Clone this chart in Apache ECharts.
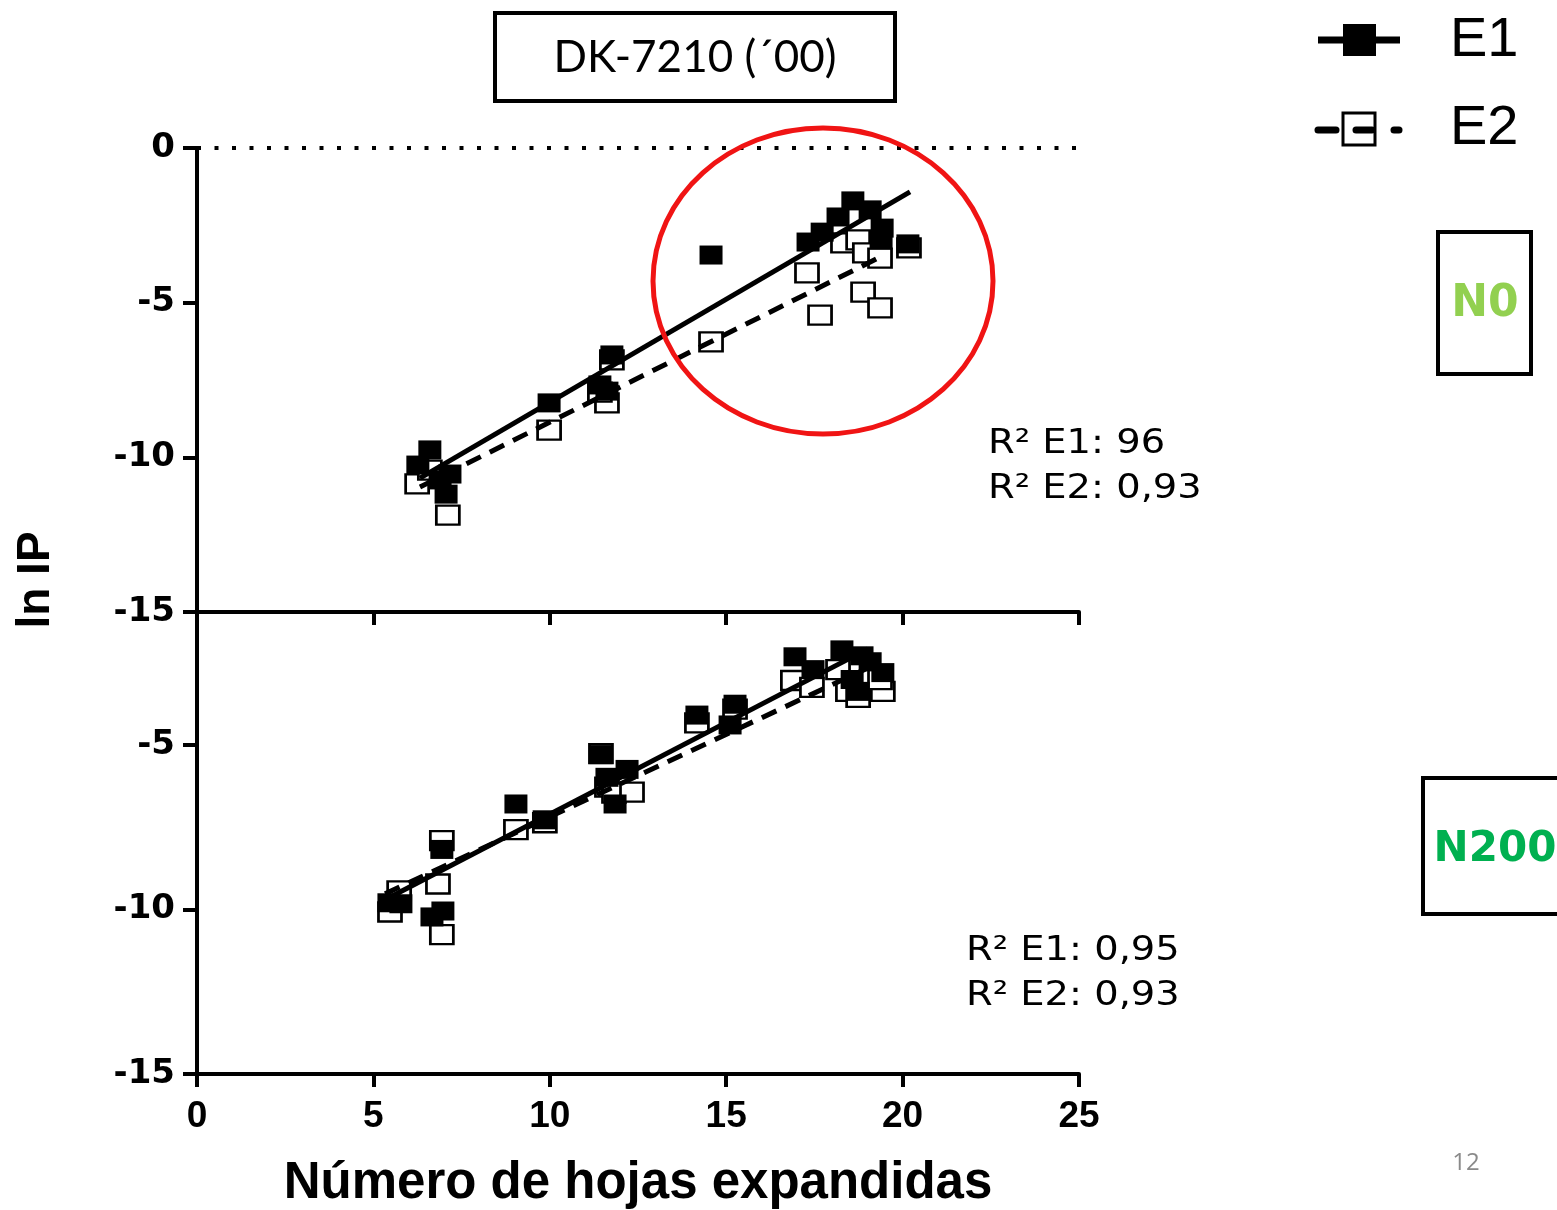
<!DOCTYPE html>
<html>
<head>
<meta charset="utf-8">
<script src="https://cdn.jsdelivr.net/npm/echarts@6/dist/echarts.min.js"></script>
<style>
html,body{margin:0;padding:0;background:#fff;}
#chart{width:1557px;height:1210px;}
</style>
</head>
<body>
<div id="chart"></div>
<script>
// ---- data ----
const xTicks = [0, 5, 10, 15, 20, 25];
const yTicksTop = [0, -5, -10, -15];
const yTicksBottom = [-5, -10, -15];

// N0 panel (top)
const topE1 = [[6.26,-10.25],[6.60,-9.76],[7.17,-10.54],[7.06,-11.19],[6.89,-10.73],[9.98,-8.24],[11.76,-6.69],[11.42,-7.66],[11.62,-7.86],[14.57,-3.46],[17.32,-3.04],[17.72,-2.72],[18.17,-2.23],[18.59,-1.71],[19.08,-2.00],[19.42,-2.59],[19.39,-2.97],[20.15,-3.10]];
const topE2 = [[6.24,-10.86],[7.11,-11.87],[6.60,-10.41],[9.98,-9.12],[11.76,-6.85],[11.62,-8.24],[11.42,-7.89],[14.57,-6.27],[17.29,-4.04],[17.66,-5.40],[18.31,-3.07],[18.74,-2.97],[18.93,-3.39],[19.36,-3.56],[18.88,-4.66],[19.36,-5.17],[20.18,-3.23]];
const topFitE1 = [[6.32,-10.67],[20.21,-1.42]];
const topFitE2 = [[6.32,-10.96],[19.25,-3.59]];
const topRefLine = [0];

// N200 panel (bottom)
const botE1 = [[5.44,-9.80],[5.78,-9.83],[6.66,-10.23],[6.97,-10.05],[6.94,-8.18],[9.04,-6.80],[9.84,-7.28],[11.45,-5.30],[12.19,-5.75],[11.62,-5.99],[11.85,-6.80],[14.17,-4.10],[15.25,-3.77],[15.11,-4.40],[16.95,-2.33],[17.46,-2.72],[18.28,-2.12],[18.85,-2.30],[19.08,-2.48],[18.57,-3.02],[18.74,-3.38],[19.44,-2.81]];
const botE2 = [[5.47,-10.08],[5.73,-9.44],[6.83,-9.23],[6.94,-10.77],[6.94,-7.91],[9.04,-7.58],[9.86,-7.37],[11.45,-5.27],[11.62,-6.29],[11.82,-6.47],[12.33,-6.44],[14.17,-4.34],[15.25,-3.92],[16.89,-3.05],[17.43,-3.26],[18.17,-2.72],[18.45,-3.38],[18.74,-3.56],[19.44,-3.38],[19.36,-3.02]];
const botFitE1 = [[5.33,-9.71],[19.02,-2.09]];
const botFitE2 = [[5.33,-9.53],[19.10,-2.63]];

const seriesNames = ['E1', 'E2'];
const r2Top = ['R\u00B2 E1: 96', 'R\u00B2 E2: 0,93'];
const r2Bot = ['R\u00B2 E1: 0,95', 'R\u00B2 E2: 0,93'];
const titleText = 'DK-7210 (\u00B400)';
const xName = 'Número de hojas expandidas';
const yName = 'ln IP';
const panelNames = ['N0', 'N200'];

// ---- chart ----
const chart = echarts.init(document.getElementById('chart'), null, {renderer: 'canvas'});

const axisLineStyle = {color: '#000', width: 4};
const yLabel = {color: '#000', fontFamily: 'DejaVu Sans', fontWeight: 'bold', fontSize: 34, margin: 22};

const openSq = {color: '#fff', borderColor: '#000', borderWidth: 2.5, opacity: 1};
const fillSq = {color: '#000', opacity: 1};

const option = {
  animation: false,
  backgroundColor: '#fff',
  grid: [
    {left: 197, top: 148, width: 882, height: 464},
    {left: 197, top: 613, width: 882, height: 466}
  ],
  xAxis: [
    {gridIndex: 0, type: 'value', min: 0, max: 25, interval: 5,
     axisLine: {onZero: false, lineStyle: axisLineStyle},
     axisTick: {length: 13, lineStyle: {color: '#000', width: 4}},
     axisLabel: {show: false}, splitLine: {show: false}},
    {gridIndex: 1, type: 'value', min: 0, max: 25, interval: 5,
     axisLine: {onZero: false, lineStyle: axisLineStyle},
     axisTick: {length: 13, lineStyle: {color: '#000', width: 4}},
     axisLabel: {color: '#000', fontFamily: 'Liberation Sans', fontWeight: 'bold', fontSize: 37, margin: 24},
     splitLine: {show: false},
     name: xName, nameLocation: 'middle', nameGap: 84,
     nameTextStyle: {color: '#000', fontFamily: 'Liberation Sans', fontWeight: 'bold', fontSize: 51}}
  ],
  yAxis: [
    {gridIndex: 0, type: 'value', min: -15, max: 0, interval: 5,
     axisLine: {onZero: false, lineStyle: axisLineStyle},
     axisTick: {length: 14, lineStyle: {color: '#000', width: 4}},
     axisLabel: yLabel, splitLine: {show: false}},
    {gridIndex: 1, type: 'value', min: -15, max: -1,
     axisLine: {onZero: false, lineStyle: axisLineStyle},
     axisTick: {length: 14, lineStyle: {color: '#000', width: 4}, customValues: yTicksBottom},
     axisLabel: Object.assign({customValues: yTicksBottom}, yLabel), splitLine: {show: false}}
  ],
  series: [
    {name: seriesNames[1], type: 'scatter', xAxisIndex: 0, yAxisIndex: 0, data: topE2,
     symbol: 'rect', symbolSize: [23, 19], itemStyle: openSq, z: 2},
    {name: seriesNames[0], type: 'scatter', xAxisIndex: 0, yAxisIndex: 0, data: topE1,
     symbol: 'rect', symbolSize: [23, 19], itemStyle: fillSq, z: 3},
    {name: seriesNames[0] + ' fit', type: 'line', xAxisIndex: 0, yAxisIndex: 0, data: topFitE1,
     symbol: 'none', lineStyle: {color: '#000', width: 5}, z: 4,
     markLine: {silent: true, symbol: ['none', 'none'], label: {show: false},
       lineStyle: {color: '#000', width: 4, type: [4, 13.5]},
       data: topRefLine.map(v => ({yAxis: v}))}},
    {name: seriesNames[1] + ' fit', type: 'line', xAxisIndex: 0, yAxisIndex: 0, data: topFitE2,
     symbol: 'none', lineStyle: {color: '#000', width: 5, type: [16, 10]}, z: 4},

    {name: seriesNames[1], type: 'scatter', xAxisIndex: 1, yAxisIndex: 1, data: botE2,
     symbol: 'rect', symbolSize: [23, 19], itemStyle: openSq, z: 2},
    {name: seriesNames[0], type: 'scatter', xAxisIndex: 1, yAxisIndex: 1, data: botE1,
     symbol: 'rect', symbolSize: [23, 19], itemStyle: fillSq, z: 3},
    {name: seriesNames[0] + ' fit', type: 'line', xAxisIndex: 1, yAxisIndex: 1, data: botFitE1,
     symbol: 'none', lineStyle: {color: '#000', width: 5}, z: 4},
    {name: seriesNames[1] + ' fit', type: 'line', xAxisIndex: 1, yAxisIndex: 1, data: botFitE2,
     symbol: 'none', lineStyle: {color: '#000', width: 5, type: [16, 10]}, z: 4}
  ],
  graphic: [
    // title box
    {type: 'rect', shape: {x: 495, y: 13, width: 400, height: 88}, style: {fill: '#fff', stroke: '#000', lineWidth: 4}, z: 10},
    {type: 'text', x: 695, y: 58, z: 11, style: {text: titleText, font: '44px Lato', fill: '#000', align: 'center', verticalAlign: 'middle'}},
    // legend
    {type: 'line', shape: {x1: 1318, y1: 40, x2: 1400, y2: 40}, style: {stroke: '#000', lineWidth: 7}, z: 10},
    {type: 'rect', shape: {x: 1343, y: 24, width: 33, height: 32}, style: {fill: '#000'}, z: 11},
    {type: 'text', x: 1450, y: 41, z: 11, style: {text: seriesNames[0], font: '56px Liberation Sans', fill: '#000', align: 'left', verticalAlign: 'middle'}},
    {type: 'line', shape: {x1: 1318, y1: 130, x2: 1336, y2: 130}, style: {stroke: '#000', lineWidth: 7, lineCap: 'round'}, z: 10},
    {type: 'rect', shape: {x: 1343, y: 113, width: 32, height: 32}, style: {fill: '#fff', stroke: '#000', lineWidth: 3}, z: 11},
    {type: 'line', shape: {x1: 1356, y1: 130, x2: 1372, y2: 130}, style: {stroke: '#000', lineWidth: 7, lineCap: 'round'}, z: 12},
    {type: 'line', shape: {x1: 1394, y1: 130, x2: 1399, y2: 130}, style: {stroke: '#000', lineWidth: 7, lineCap: 'round'}, z: 12},
    {type: 'text', x: 1450, y: 129, z: 11, style: {text: seriesNames[1], font: '56px Liberation Sans', fill: '#000', align: 'left', verticalAlign: 'middle'}},
    // panel labels
    {type: 'rect', shape: {x: 1438, y: 232, width: 93, height: 142}, style: {fill: '#fff', stroke: '#000', lineWidth: 4}, z: 10},
    {type: 'text', x: 1485, y: 305, z: 11, style: {text: panelNames[0], font: 'bold 44px "DejaVu Sans"', fill: '#92D050', align: 'center', verticalAlign: 'middle'}},
    {type: 'rect', shape: {x: 1423, y: 778, width: 150, height: 136}, style: {fill: '#fff', stroke: '#000', lineWidth: 4}, z: 10},
    {type: 'text', x: 1495, y: 850, z: 11, style: {text: panelNames[1], font: 'bold 42px "DejaVu Sans"', fill: '#00B050', align: 'center', verticalAlign: 'middle'}},
    // red ellipse
    {type: 'ellipse', shape: {cx: 823, cy: 281, rx: 170, ry: 153}, style: {fill: 'none', stroke: '#f01414', lineWidth: 5}, z: 20},
    // R2 texts
    {type: 'text', x: 988, y: 444, scaleX: 1.13, z: 11, style: {text: r2Top[0], font: '34px "DejaVu Sans"', fill: '#000', align: 'left', verticalAlign: 'middle'}},
    {type: 'text', x: 988, y: 489, scaleX: 1.13, z: 11, style: {text: r2Top[1], font: '34px "DejaVu Sans"', fill: '#000', align: 'left', verticalAlign: 'middle'}},
    {type: 'text', x: 966, y: 951, scaleX: 1.13, z: 11, style: {text: r2Bot[0], font: '34px "DejaVu Sans"', fill: '#000', align: 'left', verticalAlign: 'middle'}},
    {type: 'text', x: 966, y: 996, scaleX: 1.13, z: 11, style: {text: r2Bot[1], font: '34px "DejaVu Sans"', fill: '#000', align: 'left', verticalAlign: 'middle'}},
    // y name
    {type: 'text', x: 36, y: 580, rotation: Math.PI / 2, z: 11, style: {text: yName, font: 'bold 46px "Liberation Sans"', fill: '#000', align: 'center', verticalAlign: 'middle'}},
    // page number
    {type: 'text', x: 1466, y: 1163, z: 11, style: {text: '12', font: '24px "Open Sans"', fill: '#8a8a8a', align: 'center', verticalAlign: 'middle'}}
  ]
};
chart.setOption(option);
</script>
</body>
</html>
